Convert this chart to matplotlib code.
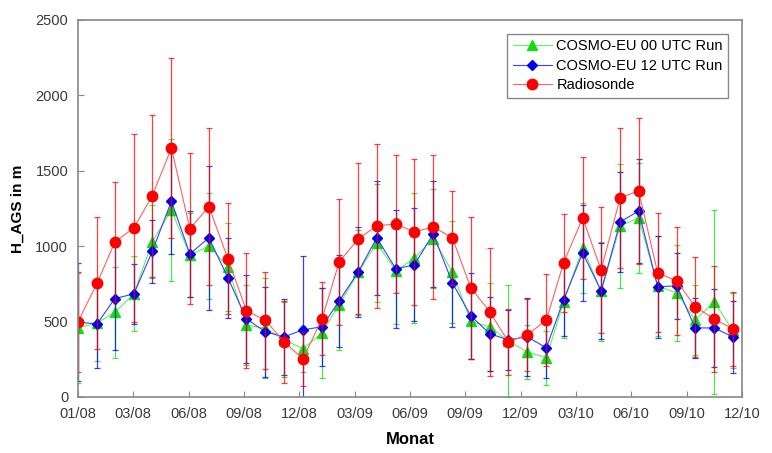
import matplotlib
matplotlib.use("Agg")
import matplotlib.pyplot as plt
import matplotlib.dates as mdates
import pandas as pd

plt.rcParams['font.family'] = ['Liberation Sans', 'DejaVu Sans']

# monate 01/2008 ... 12/2010
monate = pd.date_range("2008-01-01", periods=36, freq="MS")

# COSMO-EU 00 UTC Run (gruen)
cosmo_00 = [457, 490, 560, 685, 1030, 1240, 940, 1000, 862, 475, 455, 380,
            318, 424, 612, 825, 1021, 835, 920, 1050, 829, 500, 464, 370,
            298, 259, 630, 988, 700, 1134, 1187, 735, 690, 510, 630, 440]
cosmo_00_std = [365, 250, 300, 250, 240, 470, 280, 350, 290, 265, 330, 250,
                150, 300, 300, 280, 390, 350, 433, 330, 338, 252, 290, 373,
                180, 180, 240, 300, 330, 410, 365, 330, 320, 230, 610, 250]

# COSMO-EU 12 UTC Run (blau)
cosmo_12 = [495, 484, 652, 683, 966, 1298, 948, 1055, 789, 517, 431, 398,
            444, 465, 637, 829, 1055, 849, 875, 1081, 756, 537, 418, 378,
            398, 325, 643, 955, 703, 1160, 1233, 730, 736, 457, 457, 398]
cosmo_12_std = [390, 290, 340, 200, 210, 350, 285, 478, 265, 292, 300, 252,
                490, 260, 305, 300, 377, 392, 375, 351, 292, 285, 245, 200,
                260, 200, 238, 318, 318, 332, 345, 340, 220, 200, 258, 240]

# Radiosonde (rot)
radiosonde = [498, 753, 1027, 1121, 1334, 1651, 1115, 1262, 915, 572, 507, 365,
              252, 517, 895, 1048, 1134, 1147, 1094, 1127, 1055, 723, 564, 365,
              411, 510, 889, 1187, 842, 1320, 1366, 822, 769, 597, 517, 451]
radiosonde_std = [330, 438, 400, 625, 536, 598, 500, 522, 368, 383, 322, 270,
                  180, 242, 418, 500, 545, 460, 484, 478, 311, 470, 425, 220,
                  240, 306, 324, 405, 418, 464, 484, 395, 360, 330, 350, 245]

fig = plt.figure(figsize=(7.72, 4.53), dpi=100)
ax = fig.add_axes([0.101, 0.124, 0.86, 0.832])

# reihenfolge: gruen hinten, rot vorne
serien = [
    (cosmo_00, cosmo_00_std, "COSMO-EU 00 UTC Run", "#11dd11", "#66ee66", "^", 6.5),
    (cosmo_12, cosmo_12_std, "COSMO-EU 12 UTC Run", "#0000ee", "#3344ff", "D", 5),
    (radiosonde, radiosonde_std, "Radiosonde", "#ff0000", "#ff6060", "o", 7.5),
]

handles = []
for werte, std, name, farbe, linienfarbe, marker, ms in serien:
    ax.errorbar(monate, werte, yerr=std, fmt="none", ecolor=farbe,
                elinewidth=0.9, capsize=2.5, capthick=0.9, alpha=0.75)
    linie, = ax.plot(monate, werte, color=linienfarbe, linewidth=0.8,
                     marker=marker, markersize=ms, markerfacecolor=farbe,
                     markeredgecolor=farbe, label=name)
    handles.append(linie)

# datumsachse: ticks alle 90 tage wie im original
start = monate[0]
ticks = [start + pd.Timedelta(days=90 * k) for k in range(13)]
ax.set_xticks(ticks)
ax.xaxis.set_major_formatter(mdates.DateFormatter("%m/%y"))
ax.set_xlim(start, start + pd.Timedelta(days=1080))

ax.set_ylim(0, 2500)
ax.set_yticks(range(0, 2501, 500))

for s in ax.spines.values():
    s.set_color("#888888")
    s.set_linewidth(1.2)
ax.tick_params(direction="in", length=4, color="#888888", labelsize=10.5,
               labelcolor="#3a3a3a", pad=7)

ax.set_xlabel("Monat", fontsize=12, fontweight="bold", labelpad=8)
ax.set_ylabel("H_AGS in m", fontsize=11, fontweight="bold", labelpad=8)

leg = ax.legend(handles=handles, loc="upper right",
                bbox_to_anchor=(0.979, 0.962), fontsize=10.5, fancybox=False,
                framealpha=1, edgecolor="#888888", borderpad=0.35,
                labelspacing=0.38, handlelength=2.7, handletextpad=0.3,
                borderaxespad=0)
leg.get_frame().set_linewidth(1.0)

plt.savefig("out.png", dpi=100)
